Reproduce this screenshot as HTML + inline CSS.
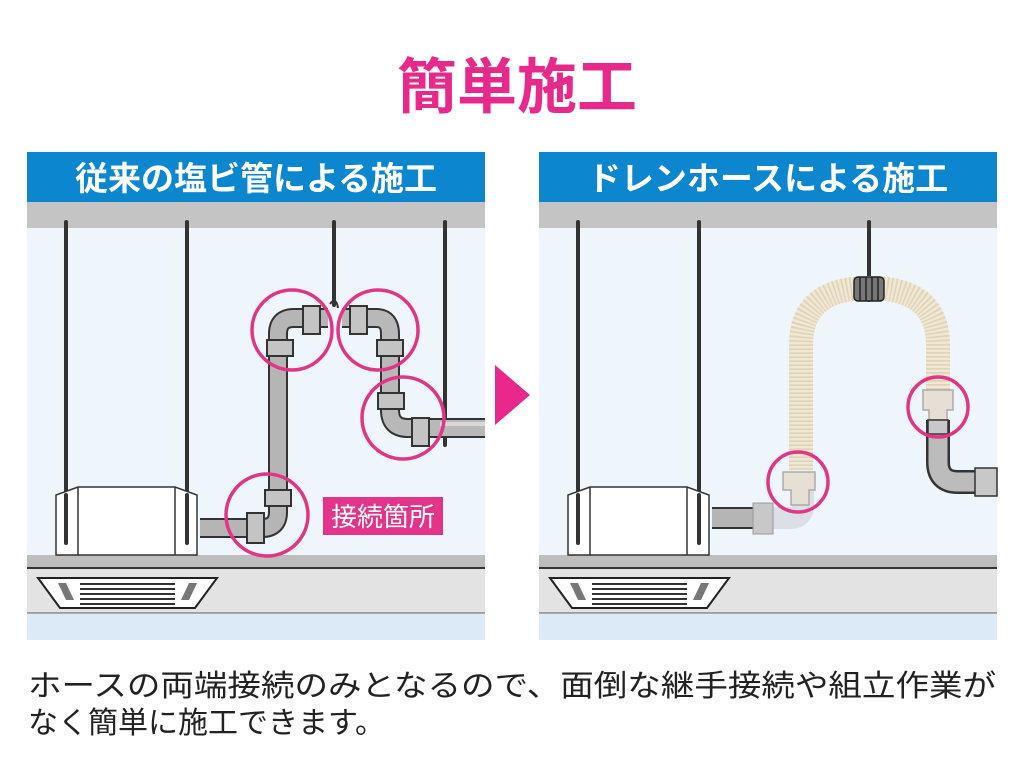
<!DOCTYPE html>
<html><head><meta charset="utf-8"><style>
body{margin:0;width:1024px;height:771px;background:#fff;overflow:hidden;font-family:"Liberation Sans","Noto Sans CJK JP",sans-serif;}
</style></head><body>
<svg width="1024" height="771" viewBox="0 0 1024 771" xmlns="http://www.w3.org/2000/svg" style="position:absolute;left:0;top:0">
<text x="517" y="108" text-anchor="middle" font-size="60" font-weight="bold" fill="#e8288a" font-family="Liberation Sans, Noto Sans CJK JP, sans-serif">簡単施工</text>

<!-- LEFT PANEL -->
<g>
<rect x="27" y="152" width="458" height="50" fill="#0b86cf"/>
<text x="256" y="190" text-anchor="middle" font-size="33" font-weight="bold" fill="#fff" font-family="Liberation Sans, Noto Sans CJK JP, sans-serif">従来の塩ビ管による施工</text>
<rect x="27" y="202" width="458" height="26" fill="#c4c4c4"/>
<rect x="27" y="228" width="458" height="327" fill="#eef6fb"/>
<rect x="27" y="555" width="458" height="13" fill="#bdbdbd"/>
<line x1="27" y1="568" x2="485" y2="568" stroke="#333" stroke-width="2"/>
<rect x="27" y="569" width="458" height="44" fill="#e3e3e3"/>
<line x1="27" y1="613" x2="485" y2="613" stroke="#555" stroke-width="1"/>
<rect x="27" y="614" width="458" height="26" fill="#dbeaf6"/>
<g stroke="#333" stroke-width="4" stroke-linecap="round">
<line x1="66" y1="222" x2="66" y2="543"/><line x1="187" y1="222" x2="187" y2="543"/>
<line x1="334" y1="222" x2="334" y2="305"/><line x1="445" y1="222" x2="445" y2="445"/>
</g>
<path d="M56,555 V495 L78,487 H175 L197,495 V555 Z" fill="#fff" stroke="#333" stroke-width="1.5"/>
<line x1="78" y1="487" x2="78" y2="555" stroke="#333" stroke-width="1.5"/><line x1="175" y1="487" x2="175" y2="555" stroke="#333" stroke-width="1.5"/>
<g stroke="#333" stroke-width="4" stroke-linecap="round"><line x1="66" y1="495" x2="66" y2="543"/><line x1="187" y1="495" x2="187" y2="543"/></g>
<path d="M38,578 H217 L195,608 H60 Z" fill="#fff" stroke="#222" stroke-width="2"/>
<g stroke="#333" stroke-width="2"><line x1="80" y1="584" x2="175" y2="584"/><line x1="80" y1="589" x2="175" y2="589"/><line x1="80" y1="594" x2="175" y2="594"/><line x1="80" y1="599" x2="175" y2="599"/><line x1="80" y1="604" x2="175" y2="604"/></g>
<path d="M58,583 L66,583 L74,600 L66,600Z M189,583 L197,583 L189,600 L181,600Z" fill="#777"/>
<g fill="none" stroke-linejoin="round">
<path d="M200,528 H262 Q278,528 278,512 V334 Q278,318 294,318 H328" stroke="#333" stroke-width="20"/>
<path d="M200,528 H262 Q278,528 278,512 V334 Q278,318 294,318 H328" stroke="#b5b5b5" stroke-width="16"/>
<path d="M342,318 H376 Q390,318 390,334 V410 Q390,428 408,428 H485" stroke="#333" stroke-width="20"/>
<path d="M342,318 H376 Q390,318 390,334 V410 Q390,428 408,428 H485" stroke="#b8b8b8" stroke-width="16"/>
<path d="M440,424 H485" stroke="#d8d8d8" stroke-width="4"/>
</g>
<g fill="#c4c4c4" stroke="#333" stroke-width="2">
<rect x="247" y="513" width="17" height="30"/><rect x="265" y="490" width="26" height="16"/>
<rect x="267" y="340" width="26" height="16"/><rect x="303" y="306" width="17" height="28"/>
<rect x="350" y="306" width="17" height="28"/><rect x="377" y="340" width="26" height="16"/>
<rect x="378" y="393" width="26" height="16"/><rect x="412" y="418" width="17" height="28"/>
</g>
<path d="M330,304 q6,-8 8,4" fill="none" stroke="#333" stroke-width="2"/>
<g fill="none" stroke="#e13585" stroke-width="3.5">
<circle cx="292" cy="330" r="40"/><circle cx="378" cy="330" r="40"/><circle cx="403" cy="418" r="41"/><circle cx="267" cy="515" r="41"/>
</g>
<rect x="323" y="497" width="120" height="38" fill="#e4348a"/>
<text x="383" y="526" text-anchor="middle" font-size="26" fill="#fff" font-family="Liberation Sans, Noto Sans CJK JP, sans-serif">接続箇所</text>
</g>

<path d="M495,365 L530,395 L495,425 Z" fill="#e8288a"/>

<!-- RIGHT PANEL -->
<g>
<rect x="539" y="152" width="458" height="50" fill="#0b86cf"/>
<text x="768" y="190" text-anchor="middle" font-size="33" font-weight="bold" fill="#fff" font-family="Liberation Sans, Noto Sans CJK JP, sans-serif">ドレンホースによる施工</text>
<rect x="539" y="202" width="458" height="26" fill="#c4c4c4"/>
<rect x="539" y="228" width="458" height="327" fill="#eef6fb"/>
<rect x="539" y="555" width="458" height="13" fill="#bdbdbd"/>
<line x1="539" y1="568" x2="997" y2="568" stroke="#333" stroke-width="2"/>
<rect x="539" y="569" width="458" height="44" fill="#e3e3e3"/>
<line x1="539" y1="613" x2="997" y2="613" stroke="#555" stroke-width="1"/>
<rect x="539" y="614" width="458" height="26" fill="#dbeaf6"/>
<g stroke="#333" stroke-width="4" stroke-linecap="round">
<line x1="578" y1="222" x2="578" y2="543"/><line x1="699" y1="222" x2="699" y2="543"/>
<line x1="869" y1="222" x2="869" y2="300"/>
</g>
<path d="M568,555 V495 L590,487 H687 L709,495 V555 Z" fill="#fff" stroke="#333" stroke-width="1.5"/>
<line x1="590" y1="487" x2="590" y2="555" stroke="#333" stroke-width="1.5"/><line x1="687" y1="487" x2="687" y2="555" stroke="#333" stroke-width="1.5"/>
<g stroke="#333" stroke-width="4" stroke-linecap="round"><line x1="578" y1="495" x2="578" y2="543"/><line x1="699" y1="495" x2="699" y2="543"/></g>
<path d="M550,578 H729 L707,608 H572 Z" fill="#fff" stroke="#222" stroke-width="2"/>
<g stroke="#333" stroke-width="2"><line x1="592" y1="584" x2="687" y2="584"/><line x1="592" y1="589" x2="687" y2="589"/><line x1="592" y1="594" x2="687" y2="594"/><line x1="592" y1="599" x2="687" y2="599"/><line x1="592" y1="604" x2="687" y2="604"/></g>
<path d="M570,583 L578,583 L586,600 L578,600Z M701,583 L709,583 L701,600 L693,600Z" fill="#777"/>
<path d="M712,518 H760" stroke="#333" stroke-width="22" fill="none"/>
<path d="M712,518 H760" stroke="#b5b5b5" stroke-width="18" fill="none"/>
<path d="M755,518 H790 Q803,518 803,505 V490" stroke="#d9dde2" stroke-width="22" fill="none" opacity="0.9"/>
<rect x="753" y="503" width="20" height="31" fill="#c8c8c8" stroke="#999" stroke-width="1"/>
<path d="M801,470 V345 Q801,288 869,288 Q938,288 938,345 V395" fill="none" stroke="#f0e8d6" stroke-width="24"/>
<path d="M801,470 V345 Q801,288 869,288 Q938,288 938,345 V395" fill="none" stroke="#e0d2b4" stroke-width="24" stroke-dasharray="1.6 2.4"/>
<rect x="854" y="277" width="30" height="24" rx="4" fill="#777" stroke="#222" stroke-width="1.5"/>
<g stroke="#222" stroke-width="1.5"><line x1="860" y1="277" x2="860" y2="301"/><line x1="866" y1="277" x2="866" y2="301"/><line x1="872" y1="277" x2="872" y2="301"/><line x1="878" y1="277" x2="878" y2="301"/></g>
<path d="M783,472 H815 V490 H809 V505 H791 V490 H783Z" fill="#e6e0d4" stroke="#aaa" stroke-width="1.5"/>
<path d="M923,390 H953 V410 H947 V420 H929 V410 H923Z" fill="#e6e0d4" stroke="#aaa" stroke-width="1.5"/>
<path d="M938,420 V462 Q938,482 958,482 H997" fill="none" stroke="#333" stroke-width="24"/>
<path d="M938,420 V462 Q938,482 958,482 H997" fill="none" stroke="#bcbcbc" stroke-width="19"/>
<rect x="928" y="420" width="20" height="14" fill="#c8c8c8" stroke="#333" stroke-width="1.5"/>
<rect x="975" y="468" width="22" height="28" fill="#c8c8c8" stroke="#333" stroke-width="1.5"/>
<g fill="none" stroke="#e13585" stroke-width="3.5">
<circle cx="798" cy="482" r="30"/><circle cx="938" cy="407" r="30"/>
</g>
</g>

<g font-size="30" fill="#222" font-family="Liberation Sans, Noto Sans CJK JP, sans-serif">
<text x="28" y="696" textLength="968" lengthAdjust="spacingAndGlyphs">ホースの両端接続のみとなるので、面倒な継手接続や組立作業が</text>
<text x="28" y="733">なく簡単に施工できます。</text>
</g>
</svg>
</body></html>
